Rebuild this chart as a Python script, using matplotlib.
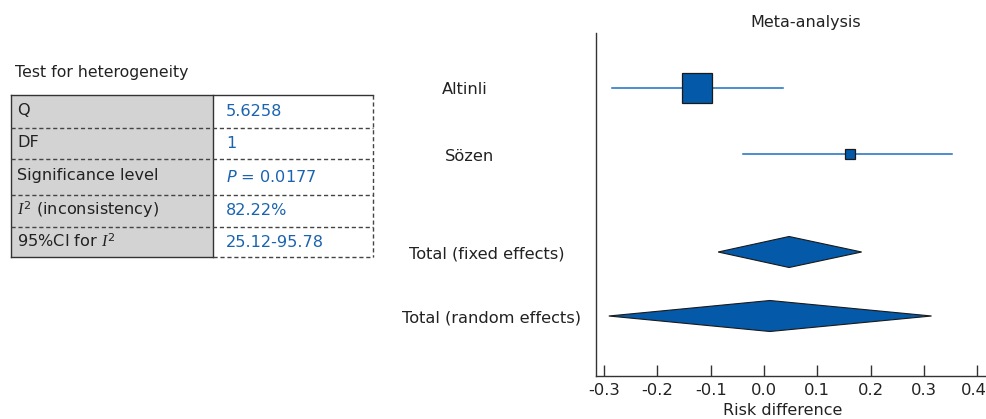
import matplotlib.pyplot as plt
import matplotlib.transforms as mtransforms
import numpy as np

plt.rcParams['font.family'] = ['DejaVu Sans']
plt.rcParams['mathtext.fontset'] = 'custom'
plt.rcParams['mathtext.rm'] = 'DejaVu Sans'
plt.rcParams['mathtext.it'] = 'Liberation Serif:italic'
plt.rcParams['mathtext.sf'] = 'DejaVu Sans:italic'

# forest plot data (risk difference)
studies = ['Altinli', 'Sözen']
study_rd = [-0.125, 0.161]
study_lo = [-0.285, -0.039]
study_hi = [0.036, 0.352]
study_weight = [91.2, 8.8]

pooled = ['Total (fixed effects)', 'Total (random effects)']
pooled_rd = [0.047, 0.011]
pooled_lo = [-0.086, -0.291]
pooled_hi = [0.183, 0.314]

xticks = [-0.3, -0.2, -0.1, 0.0, 0.1, 0.2, 0.3, 0.4]

# heterogeneity table
het_labels = ['Q', 'DF', 'Significance level', r'$I^2$ (inconsistency)', r'95%CI for $I^2$']
het_values = ['5.6258', '1', r'$\mathsf{P}$ = 0.0177', '82.22%', '25.12-95.78']

BLUE = '#0459a8'
LINE = '#1b6ec2'
TXT = '#222222'
VAL = '#1a63b0'

W, H = 987, 419
fig = plt.figure(figsize=(W / 100, H / 100), dpi=100)

# overlay in pixel coords for table and labels
ov = fig.add_axes([0, 0, 1, 1])
ov.set_xlim(0, W)
ov.set_ylim(H, 0)
ov.axis('off')

# forest axes, y in pixel units so rows line up with the overlay
ax = fig.add_axes([596 / W, 1 - 376 / H, (W - 596) / W, (376 - 33) / H])
ax.set_xlim(-0.315, 0.418)
ax.set_ylim(376, 33)
study_y = [88, 154]
pooled_y = [252, 316]

for y, rd, lo, hi, w in zip(study_y, study_rd, study_lo, study_hi, study_weight):
    ax.plot([lo, hi], [y, y], color=LINE, lw=1.1, zorder=2)
    ax.plot(rd, y, marker='s', ms=2.19 * np.sqrt(w), mfc=BLUE, mec='#1a1a1a',
            mew=0.9, zorder=3)

half_h = 15.5
for y, rd, lo, hi in zip(pooled_y, pooled_rd, pooled_lo, pooled_hi):
    ax.fill([lo, rd, hi, rd], [y, y - half_h, y, y + half_h], facecolor=BLUE,
            edgecolor='#1a1a1a', lw=0.8, zorder=3)

ax.set_xticks(xticks)
ax.set_xticklabels([f'{t:.1f}' for t in xticks])
ax.tick_params(axis='x', direction='in', length=8, width=1, colors='#333333',
               labelsize=11.8, labelcolor=TXT, pad=5)
# keep the last label inside the picture
last = ax.get_xticklabels()[-1]
last.set_transform(last.get_transform() +
                   mtransforms.ScaledTranslation(-0.04, 0, fig.dpi_scale_trans))
ax.set_yticks([])
for s in ['top', 'right']:
    ax.spines[s].set_visible(False)
for s in ['left', 'bottom']:
    ax.spines[s].set_color('#333333')
    ax.spines[s].set_linewidth(1)
ax.patch.set_alpha(0)

ov.text(806, 22, 'Meta-analysis', ha='center', va='center', fontsize=11.5, color=TXT)
ov.text(783, 410, 'Risk difference', ha='center', va='center', fontsize=11.5, color=TXT)

label_x = [465, 470, 487, 491]
for lab, x, y in zip(studies + pooled, label_x, study_y + pooled_y):
    ov.text(x, y + 2, lab, ha='center', va='center', fontsize=11.7, color=TXT)

# table
ov.text(15, 73, 'Test for heterogeneity', ha='left', va='center', fontsize=11.3, color=TXT)
x0, xm, x1 = 10.7, 213.3, 373.3
rows = [95, 128.3, 159, 195, 226.7, 257.3]
ov.add_patch(plt.Rectangle((x0, rows[0]), xm - x0, rows[-1] - rows[0],
                           facecolor='#d3d3d3', edgecolor='none'))
solid = dict(color='#333333', lw=1)
dash = dict(color='#444444', lw=1, ls=(0, (3, 2)))
ov.plot([x0, x0], [rows[0], rows[-1]], **solid)
ov.plot([x0, x1], [rows[0], rows[0]], **solid)
ov.plot([xm, xm], [rows[0], rows[-1]], **solid)
ov.plot([x0, xm], [rows[-1], rows[-1]], **solid)
ov.plot([xm, x1], [rows[-1], rows[-1]], **dash)
ov.plot([x1, x1], [rows[0], rows[-1]], **dash)
for r in rows[1:-1]:
    ov.plot([x0, x1], [r, r], **dash)

for i, (lab, val) in enumerate(zip(het_labels, het_values)):
    cy = (rows[i] + rows[i + 1]) / 2
    ov.text(17, cy - 1.5, lab, ha='left', va='center', fontsize=11.6, color=TXT)
    ov.text(226, cy, val, ha='left', va='center', fontsize=11.6, color=VAL)

fig.savefig('out.png', dpi=100, facecolor='white')
